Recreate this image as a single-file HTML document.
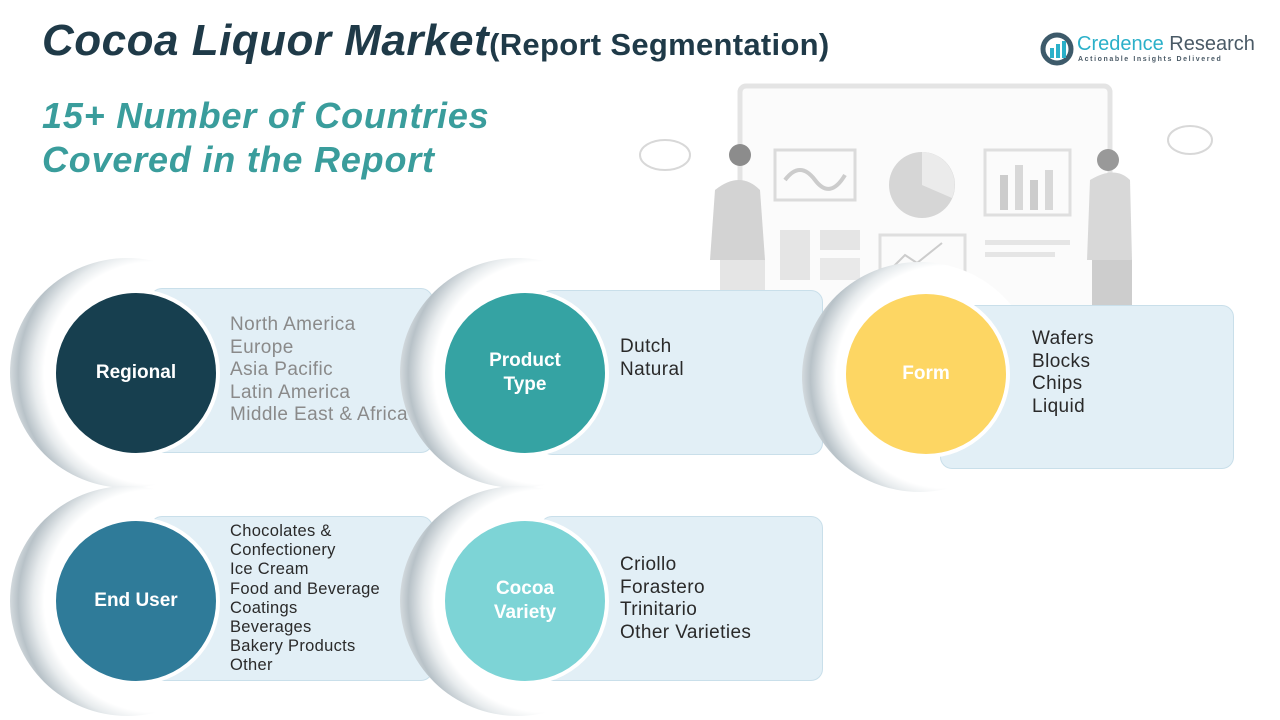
<!DOCTYPE html>
<html><head><style>
*{margin:0;padding:0;box-sizing:border-box}
body{width:1280px;height:720px;background:#fff;font-family:"Liberation Sans",sans-serif;position:relative;overflow:hidden}
.abs{position:absolute}
.card{position:absolute;background:#e2eff6;border:1.5px solid #c9dfea;border-radius:12px}
.ring{position:absolute;border-radius:50%;background:radial-gradient(circle at 62% 50%, #fff 0 60%, #e8ecee 66%, #b8c2c8 74%, #e9edef 82%, rgba(255,255,255,0) 90%)}
.circ{position:absolute;border-radius:50%;border:4px solid #fff;display:flex;align-items:center;justify-content:center;text-align:center;color:#fff;font-weight:bold;font-size:19px;line-height:24px}
.txt{position:absolute;font-size:19px;line-height:22.5px;color:#2a2a2a;letter-spacing:0.4px}
</style></head><body>
<div class="abs" style="left:42px;top:16px;font-size:44px;font-weight:bold;font-style:italic;color:#1f3a48;white-space:nowrap;letter-spacing:0.5px">Cocoa Liquor Market<span style="font-size:31px;font-style:normal;letter-spacing:0.3px">(Report Segmentation)</span></div>
<div class="abs" style="left:42px;top:94px;font-size:36px;line-height:44px;font-weight:bold;font-style:italic;color:#3a9d9c;letter-spacing:0.8px">15+ Number of Countries<br>Covered in the Report</div>
<!-- logo -->
<svg class="abs" style="left:1040px;top:32px" width="34" height="34" viewBox="0 0 34 34"><circle cx="17" cy="17" r="14" fill="none" stroke="#3d5a6a" stroke-width="5"/><rect x="10" y="16" width="4" height="10" fill="#2bb0c9"/><rect x="16" y="12" width="4" height="14" fill="#2bb0c9"/><rect x="22" y="9" width="4" height="17" fill="#2bb0c9"/></svg>
<div class="abs" style="left:1077px;top:33px;font-size:20px;color:#2bb0c9;white-space:nowrap">Credence <span style="color:#4a5a66">Research</span></div>
<div class="abs" style="left:1078px;top:56px;font-size:7px;letter-spacing:1.6px;color:#4a5a66;font-weight:bold;white-space:nowrap">Actionable Insights Delivered</div>
<!-- illustration -->
<svg class="abs" style="left:630px;top:80px;opacity:0.75" width="600" height="240" viewBox="0 0 600 240">
<rect x="110" y="6" width="370" height="230" rx="6" fill="#fafafa" stroke="#dcdcdc" stroke-width="5"/>
<rect x="145" y="70" width="80" height="50" fill="none" stroke="#d0d0d0" stroke-width="3"/>
<path d="M155 100 q15 -20 30 0 t30 -5" stroke="#bbb" stroke-width="4" fill="none"/>
<circle cx="292" cy="105" r="33" fill="#c9c9c9"/><path d="M292 105 L292 72 A33 33 0 0 1 322 118 Z" fill="#e5e5e5"/>
<rect x="355" y="70" width="85" height="65" fill="none" stroke="#d5d5d5" stroke-width="3"/>
<rect x="370" y="95" width="8" height="35" fill="#bbb"/><rect x="385" y="85" width="8" height="45" fill="#ccc"/><rect x="400" y="100" width="8" height="30" fill="#bbb"/><rect x="415" y="90" width="8" height="40" fill="#ccc"/>
<rect x="150" y="150" width="30" height="50" fill="#ddd"/><rect x="190" y="150" width="40" height="20" fill="#ddd"/><rect x="190" y="178" width="40" height="22" fill="#e2e2e2"/>
<rect x="250" y="155" width="85" height="45" fill="none" stroke="#d5d5d5" stroke-width="3"/><path d="M260 190 l15 -15 l12 8 l25 -20" stroke="#bbb" stroke-width="2" fill="none"/>
<rect x="355" y="160" width="85" height="5" fill="#ddd"/><rect x="355" y="172" width="70" height="5" fill="#ddd"/>
<ellipse cx="35" cy="75" rx="25" ry="15" fill="none" stroke="#ccc" stroke-width="2"/><ellipse cx="560" cy="60" rx="22" ry="14" fill="none" stroke="#ccc" stroke-width="2"/>
<circle cx="110" cy="75" r="11" fill="#666"/><path d="M85 110 q25 -20 45 0 l5 70 h-55 z" fill="#c5c5c5"/><rect x="90" y="180" width="45" height="60" fill="#ddd"/>
<circle cx="478" cy="80" r="11" fill="#777"/><path d="M460 100 q25 -15 40 0 l2 80 h-45 z" fill="#ccc"/><rect x="462" y="180" width="40" height="60" fill="#bdbdbd"/>
</svg>
<!-- segments -->
<div class="ring" style="left:10px;top:258px;width:235px;height:230px"></div>
<div class="card" style="left:150px;top:288px;width:283px;height:165px"></div>
<div class="circ" style="left:52px;top:289px;width:168px;height:168px;background:#173f4f">Regional</div>
<div class="txt" style="left:230px;top:314px;color:#8a8a8a">North America<br>Europe<br>Asia Pacific<br>Latin America<br>Middle East &amp; Africa</div>

<div class="ring" style="left:400px;top:258px;width:235px;height:230px"></div>
<div class="card" style="left:540px;top:290px;width:283px;height:165px"></div>
<div class="circ" style="left:441px;top:289px;width:168px;height:168px;background:#35a3a3">Product<br>Type</div>
<div class="txt" style="left:620px;top:336px">Dutch<br>Natural</div>

<div class="ring" style="left:802px;top:262px;width:235px;height:230px"></div>
<div class="card" style="left:940px;top:305px;width:294px;height:164px"></div>
<div class="circ" style="left:842px;top:290px;width:168px;height:168px;background:#fdd663">Form</div>
<div class="txt" style="left:1032px;top:328px">Wafers<br>Blocks<br>Chips<br>Liquid</div>

<div class="ring" style="left:10px;top:486px;width:235px;height:230px"></div>
<div class="card" style="left:150px;top:516px;width:283px;height:165px"></div>
<div class="circ" style="left:52px;top:517px;width:168px;height:168px;background:#2f7b99">End User</div>
<div class="txt" style="left:230px;top:522px;font-size:16.5px;line-height:19.2px;letter-spacing:0.3px">Chocolates &amp;<br>Confectionery<br>Ice Cream<br>Food and Beverage<br>Coatings<br>Beverages<br>Bakery Products<br>Other</div>

<div class="ring" style="left:400px;top:486px;width:235px;height:230px"></div>
<div class="card" style="left:540px;top:516px;width:283px;height:165px"></div>
<div class="circ" style="left:441px;top:517px;width:168px;height:168px;background:#7dd4d6">Cocoa<br>Variety</div>
<div class="txt" style="left:620px;top:554px">Criollo<br>Forastero<br>Trinitario<br>Other Varieties</div>
</body></html>
